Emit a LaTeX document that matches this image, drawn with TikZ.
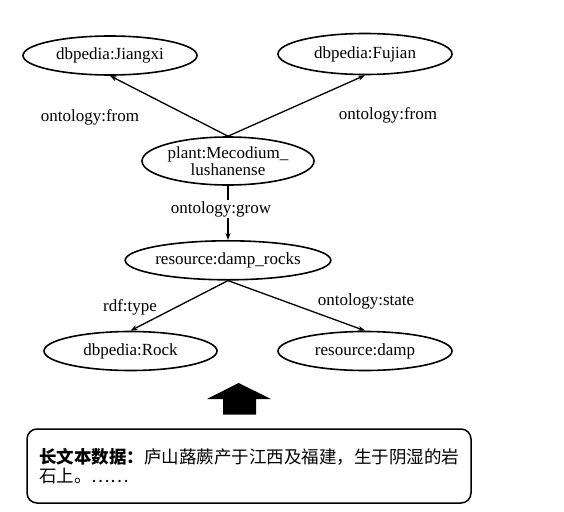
\documentclass[tikz,border=0pt]{standalone}
\usepackage{fontspec}
\setmainfont{Liberation Serif}
\newfontfamily\cjk{Noto Sans CJK SC}
\usetikzlibrary{shapes.geometric,arrows.meta}
\begin{document}
\begin{tikzpicture}[x=1pt,y=-1pt,
  ent/.style={draw,ellipse,line width=1.6pt,inner sep=0pt,font=\fontsize{17}{17}\selectfont},
  rel/.style={line width=1.3pt,-{Stealth[length=7pt,width=5pt]}},
  lbl/.style={font=\fontsize{17}{18}\selectfont,inner sep=1pt,anchor=base}]
\useasboundingbox (0,0) rectangle (564,511);
\node[ent,minimum width=174pt,minimum height=39pt] (jx) at (110,55.5) {dbpedia:Jiangxi};
\node[ent,minimum width=174pt,minimum height=41pt] (fj) at (365,54) {dbpedia:Fujian};
\node[ent,minimum width=172pt,minimum height=48pt,align=center] (mec) at (228,161)
  {plant:Mecodium\_\\lushanense};
\node[ent,minimum width=172pt,minimum height=39pt] (dr) at (228,260.3) {resource:damp\_rocks};
\node[ent,minimum width=173pt,minimum height=39pt] (rock) at (130.5,351) {dbpedia:Rock};
\node[ent,minimum width=174pt,minimum height=39pt] (damp) at (365,351) {resource:damp};
\draw[rel] (mec.north) -- (jx.south);
\draw[rel] (mec.north) -- (fj.south);
\draw[rel] (mec.south) -- (dr.north);
\draw[rel] (dr.south) -- (rock.north);
\draw[rel] (dr.south) -- (damp.north);
\node[lbl] (l1) at (90,121.7) {ontology:from};
\node[lbl] (l2) at (388,119) {ontology:from};
\node[lbl,fill=white,inner sep=1pt] (l3) at (221,213) {ontology:grow};
\node[lbl] (l4) at (130,311.7) {rdf:type};
\node[lbl] (l5) at (366,305) {ontology:state};
\fill (207,399) -- (238.5,383) -- (271,399) -- (256,399) -- (256,414.5) -- (223,414.5) -- (223,399) -- cycle;
\node[draw,line width=1.5pt,rounded corners=10pt,minimum width=444pt,minimum height=74pt,
  align=left,font=\cjk\fontsize{17.5}{19.5}\selectfont] (box) at (249,466)
  {{\bfseries 长文本数据：}庐山蕗蕨产于江西及福建，生于阴湿的岩\\石上。……};
\end{tikzpicture}
\end{document}
